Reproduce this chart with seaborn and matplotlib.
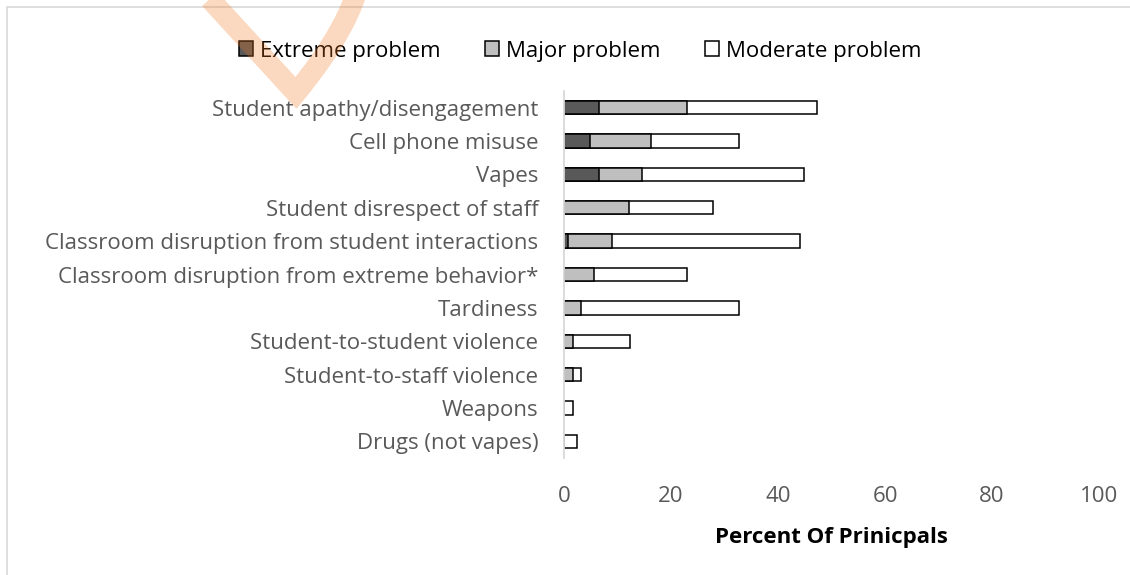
import numpy as np
import pandas as pd
import matplotlib
matplotlib.use("Agg")
import matplotlib.pyplot as plt
import seaborn as sns
from matplotlib.patches import Rectangle, Patch, PathPatch
from matplotlib.path import Path

# Survey results: share of principals rating each issue, by severity
categories = [
    "Student apathy/disengagement",
    "Cell phone misuse",
    "Vapes",
    "Student disrespect of staff",
    "Classroom disruption from student interactions",
    "Classroom disruption from extreme behavior*",
    "Tardiness",
    "Student-to-student violence",
    "Student-to-staff violence",
    "Weapons",
    "Drugs (not vapes)",
]
extreme = [6.5, 4.9, 6.5, 0.0, 0.8, 0.0, 0.0, 0.0, 0.0, 0.0, 0.0]
major = [16.4, 11.4, 8.1, 12.2, 8.2, 5.7, 3.2, 1.7, 1.7, 0.0, 0.0]
moderate = [24.4, 16.4, 30.3, 15.6, 35.1, 17.2, 29.5, 10.6, 1.5, 1.7, 2.5]

series_names = ["Extreme problem", "Major problem", "Moderate problem"]
series_colors = ["#595959", "#bfbfbf", "#ffffff"]
x_ticks = [0, 20, 40, 60, 80, 100]
x_label = "Percent Of Prinicpals"

sns.set_theme(style="white")
plt.rcParams["font.family"] = ["Open Sans", "DejaVu Sans"]

FS = 16
W, H = 1130, 575
fig = plt.figure(figsize=(W / 100, H / 100), dpi=100)
fig.patch.set_facecolor("white")


def fx(px):
    return px / W


def fy(py):
    return 1 - py / H


ax = fig.add_axes([fx(564), fy(458), fx(1099) - fx(564), fy(91) - fy(458)])

df = pd.DataFrame({"category": categories, "extreme": extreme,
                   "major": major, "moderate": moderate})
# running totals so each severity stacks on the one before it
df["end_extreme"] = df["extreme"]
df["end_major"] = df["extreme"] + df["major"]
df["end_moderate"] = df["end_major"] + df["moderate"]

layers = [("moderate", "end_moderate", series_colors[2]),
          ("major", "end_major", series_colors[1]),
          ("extreme", "end_extreme", series_colors[0])]
for seg, end, color in layers:
    vals = df[end].where(df[seg] > 0)
    sns.barplot(x=vals, y=df["category"], order=categories, orient="h",
                color=color, saturation=1, edgecolor="black", linewidth=1.1,
                width=0.4, errorbar=None, ax=ax)

ax.set_xlim(0, 100)
ax.set_ylim(len(categories) - 0.5, -0.5)
ax.set_xticks(x_ticks)
ax.set_xticklabels([str(t) for t in x_ticks])
ax.set_ylabel("")
for s in ["top", "right", "bottom"]:
    ax.spines[s].set_visible(False)
ax.spines["left"].set_color("#d9d9d9")
ax.spines["left"].set_linewidth(1.3)
ax.spines["left"].set_zorder(5)
ax.grid(False)
ax.tick_params(axis="both", length=0, colors="#595959", labelsize=FS)
ax.tick_params(axis="y", pad=18.5)
ax.tick_params(axis="x", pad=20)

ax.set_xlabel(x_label, fontsize=FS, fontweight="bold", color="black", va="center")
ax.xaxis.set_label_coords(0.5, (458 - 537) / 367)

handles = [Patch(facecolor=c, edgecolor="black", linewidth=1.1) for c in series_colors]
fig.legend(handles, series_names, loc="center", bbox_to_anchor=(fx(580), fy(51)),
           ncol=3, frameon=False, fontsize=FS, handlelength=0.65, handleheight=0.65,
           handletextpad=0.3, columnspacing=2.0, labelcolor="black")

# light frame around the chart area
frame = Rectangle((fx(7), fy(600)), 1.2, fy(7) - fy(600), transform=fig.transFigure,
                  fill=False, edgecolor="#d9d9d9", linewidth=1.2)
fig.add_artist(frame)

# translucent orange check-mark stroke across the upper left
pts = [(197, -15), (296, 93), (352, 25), (361, -25)]
codes = [Path.MOVETO, Path.LINETO, Path.CURVE3, Path.CURVE3]
mark = Path([(fx(x), fy(y)) for x, y in pts], codes)
fig.add_artist(PathPatch(mark, transform=fig.transFigure, facecolor="none",
                         edgecolor="#F47920", alpha=0.28, linewidth=15,
                         joinstyle="miter", capstyle="butt", zorder=10))

fig.savefig("out.png", dpi=100, facecolor="white")
